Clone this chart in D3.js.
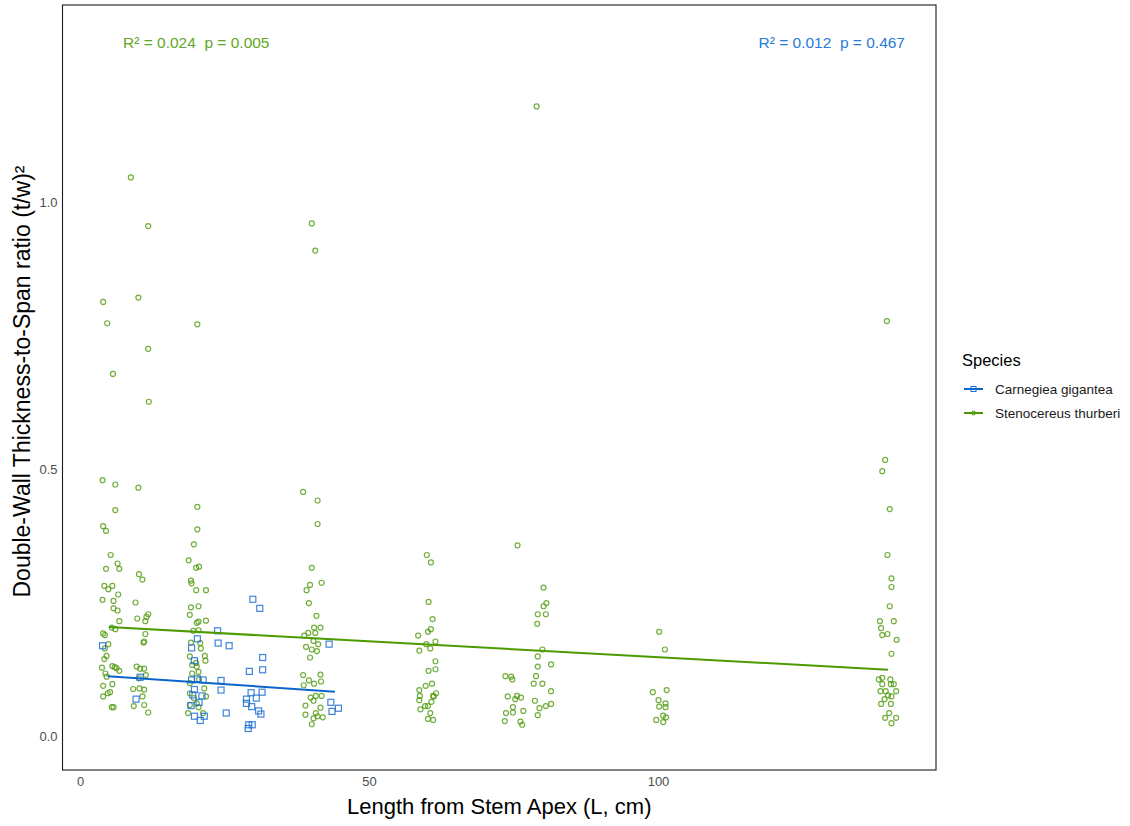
<!DOCTYPE html>
<html>
<head>
<meta charset="utf-8">
<script src="https://cdn.jsdelivr.net/npm/d3@7"></script>
<style>
  body { margin: 0; background: #fff; }
  svg { display: block; font-family: "Liberation Sans", Arial, sans-serif; }
</style>
</head>
<body>
<svg id="chart" width="1130" height="826"></svg>
<script>
// Stenocereus thurberi points [length (cm), ratio]
var thurberiPts = [
  // ~5 cm
  [3.9,0.479],[6.1,0.471],[6.1,0.423],[4.0,0.393],[4.5,0.384],[5.3,0.339],[6.5,0.323],[4.5,0.313],[6.8,0.313],
  [4.2,0.281],[4.9,0.275],[5.6,0.281],[6.6,0.265],[3.9,0.255],[5.8,0.253],[5.8,0.239],[6.5,0.235],[6.8,0.215],
  [5.5,0.203],[6.1,0.200],[4.0,0.192],[4.3,0.189],[4.9,0.172],[4.3,0.164],[4.6,0.150],[4.2,0.144],[3.8,0.128],
  [5.6,0.131],[6.0,0.129],[6.3,0.127],[6.8,0.122],[4.4,0.117],[4.6,0.111],[4.0,0.094],[5.6,0.097],[5.2,0.082],
  [4.8,0.080],[4.0,0.074],[5.5,0.054],[5.8,0.054],[4.0,0.813],[4.7,0.773],[5.7,0.678],
  // ~10 cm
  [10.1,0.465],[10.2,0.303],[10.8,0.293],[9.6,0.250],[11.8,0.228],[11.5,0.223],[9.9,0.220],[11.3,0.215],
  [11.3,0.191],[11.0,0.175],[11.1,0.177],[9.8,0.130],[10.4,0.126],[11.1,0.126],[11.4,0.114],[10.2,0.108],
  [9.2,0.088],[10.3,0.089],[11.1,0.087],[10.8,0.074],[9.3,0.056],[11.1,0.058],[11.8,0.044],[8.8,1.046],
  [11.8,0.955],[10.1,0.821],[11.8,0.725],[11.9,0.626],
  // ~20 cm
  [20.3,0.771],[20.3,0.429],[20.3,0.387],[19.7,0.359],[18.8,0.329],[20.1,0.315],[20.6,0.317],[19.2,0.291],
  [19.3,0.286],[20.1,0.273],[21.8,0.273],[19.2,0.241],[20.5,0.243],[19.0,0.227],[20.2,0.212],[20.5,0.214],
  [21.8,0.216],[19.6,0.197],[20.5,0.198],[19.2,0.175],[20.8,0.174],[20.9,0.164],[19.0,0.149],[21.6,0.150],
  [21.7,0.141],[20.1,0.137],[19.4,0.133],[20.2,0.130],[20.5,0.120],[19.4,0.117],[20.6,0.106],[19.0,0.099],
  [21.5,0.089],[19.0,0.080],[21.8,0.074],[19.7,0.071],[19.0,0.058],[20.5,0.054],[18.7,0.043],[21.3,0.043],[20.2,0.061],
  // ~40 cm
  [40.1,0.960],[40.7,0.909],[38.6,0.457],[41.1,0.441],[41.1,0.397],[40.1,0.315],[39.8,0.283],[41.8,0.287],
  [39.2,0.273],[39.6,0.249],[40.9,0.225],[40.5,0.203],[41.6,0.203],[40.7,0.193],[38.8,0.188],[39.5,0.193],
  [40.4,0.178],[41.2,0.172],[39.1,0.167],[40.1,0.162],[41.0,0.159],[39.8,0.147],[38.6,0.114],[39.6,0.104],
  [40.5,0.098],[41.6,0.115],[38.7,0.095],[41.7,0.102],[39.9,0.072],[40.8,0.075],[41.8,0.075],[40.4,0.066],
  [39.0,0.057],[41.6,0.053],[40.8,0.043],[39.0,0.040],[40.4,0.033],[42.0,0.035],[40.1,0.022],[41.1,0.037],
  // ~60 cm
  [60.0,0.339],[60.7,0.325],[60.3,0.251],[61.0,0.219],[60.7,0.200],[60.2,0.195],[58.5,0.188],[61.5,0.177],
  [59.9,0.172],[60.6,0.164],[58.7,0.160],[61.5,0.140],[61.5,0.125],[60.3,0.122],[60.9,0.098],[59.8,0.094],
  [58.7,0.086],[58.8,0.075],[61.1,0.075],[61.6,0.080],[58.7,0.067],[60.8,0.064],[59.7,0.056],[60.2,0.056],
  [58.9,0.050],[60.6,0.043],[60.2,0.032],[61.1,0.030],[61.2,0.074],
  // ~75-80 cm
  [79.0,1.179],[75.7,0.357],[80.2,0.278],[80.7,0.249],[80.2,0.243],[79.2,0.228],[80.6,0.228],[79.1,0.210],
  [80.0,0.162],[79.2,0.149],[79.2,0.130],[81.5,0.134],[78.9,0.112],[73.6,0.112],[74.6,0.111],[74.8,0.106],
  [78.5,0.098],[80.0,0.098],[81.5,0.084],[74.0,0.074],[75.6,0.075],[75.3,0.069],[76.3,0.072],[78.7,0.066],
  [81.5,0.060],[80.6,0.056],[74.9,0.054],[79.5,0.052],[76.7,0.047],[73.7,0.043],[74.9,0.044],[79.2,0.039],
  [73.5,0.028],[76.2,0.027],[76.5,0.021],
  // ~100 cm
  [100.2,0.195],[101.2,0.162],[99.1,0.082],[101.5,0.086],[100.1,0.067],[101.3,0.061],[100.2,0.055],
  [101.3,0.054],[100.9,0.038],[101.4,0.035],[99.7,0.030],[100.9,0.026],
  // ~140 cm
  [139.6,0.777],[139.3,0.517],[138.8,0.496],[140.1,0.425],[139.7,0.339],[140.4,0.295],[140.4,0.279],
  [140.1,0.243],[138.4,0.215],[140.8,0.215],[138.6,0.202],[138.8,0.189],[139.7,0.191],[141.3,0.180],
  [140.4,0.154],[138.2,0.106],[138.8,0.109],[140.2,0.106],[138.8,0.097],[140.3,0.097],[140.8,0.097],
  [138.5,0.084],[139.4,0.084],[141.2,0.084],[139.8,0.076],[140.4,0.074],[139.2,0.069],[138.6,0.060],
  [140.3,0.060],[140.0,0.043],[139.3,0.034],[141.2,0.034],[140.4,0.024]
];

// Carnegiea gigantea points
var giganteaPts = [
  [3.9,0.169],[10.4,0.110],[9.7,0.069],[29.9,0.256],[31.1,0.239],[23.8,0.197],[23.9,0.174],[25.8,0.169],
  [20.3,0.182],[19.3,0.165],[31.6,0.147],[19.8,0.141],[29.3,0.121],[31.6,0.124],[20.3,0.107],[21.3,0.105],
  [24.4,0.104],[19.3,0.105],[19.8,0.087],[24.4,0.086],[29.6,0.081],[31.5,0.082],[19.5,0.077],[21.1,0.075],
  [28.8,0.069],[30.5,0.071],[20.6,0.063],[28.8,0.061],[19.2,0.057],[29.7,0.055],[30.9,0.047],[31.3,0.041],
  [25.3,0.043],[19.8,0.037],[21.5,0.037],[20.8,0.029],[29.2,0.021],[29.1,0.014],[29.8,0.021],[43.1,0.172],
  [43.4,0.063],[44.7,0.052],[43.6,0.046]
];

// fitted lm lines (endpoints)
var thurberiFit = [[5.0,0.204],[139.8,0.124]];
var giganteaFit = [[4.8,0.112],[44.1,0.083]];

var speciesNames = ["Carnegiea gigantea", "Stenocereus thurberi"];
var statLabels = ["R\u00b2 = 0.012\u00a0\u00a0p = 0.467", "R\u00b2 = 0.024\u00a0\u00a0p = 0.005"];
var xTicks = [0, 50, 100];
var yTicks = [0.0, 0.5, 1.0];

// colours
const blue = "#1f6fd3", green = "#4f9a0c";

const svg = d3.select("#chart");
const panel = {left: 62.5, right: 936, top: 5, bottom: 770};

let xScale = d3.scaleLinear().domain([-3.03, 148.1]).range([panel.left, panel.right]);
let yScale = d3.scaleLinear().domain([-0.0637, 1.369]).range([panel.bottom, panel.top]);

// axes (no tick marks, just labels)
let xAxis = d3.axisBottom(xScale).tickValues(xTicks).tickSize(0).tickPadding(7).tickFormat(d3.format("d"));
let yAxis = d3.axisLeft(yScale).tickValues(yTicks).tickSize(0).tickPadding(5).tickFormat(d3.format(".1f"));

svg.append("g").attr("transform", `translate(0,${panel.bottom})`).call(xAxis)
  .attr("font-family", null).attr("font-size", null)
  .call(g => g.select(".domain").remove())
  .selectAll("text").attr("font-size", "13px").attr("fill", "#4d4d4d");
svg.append("g").attr("transform", `translate(${panel.left},0)`).call(yAxis)
  .attr("font-family", null).attr("font-size", null)
  .call(g => g.select(".domain").remove())
  .selectAll("text").attr("font-size", "13px").attr("fill", "#4d4d4d");

// points
let pts = svg.append("g");
pts.selectAll("circle.thu").data(thurberiPts).enter().append("circle")
  .attr("class", "thu")
  .attr("cx", d => xScale(d[0]))
  .attr("cy", d => yScale(d[1]))
  .attr("r", 2.5)
  .attr("fill", "none")
  .attr("stroke", green)
  .attr("stroke-width", 1.2)
  .attr("stroke-opacity", 0.8);

pts.selectAll("rect.gig").data(giganteaPts).enter().append("rect")
  .attr("class", "gig")
  .attr("x", d => xScale(d[0]) - 3)
  .attr("y", d => yScale(d[1]) - 3)
  .attr("width", 6)
  .attr("height", 6)
  .attr("fill", "none")
  .attr("stroke", blue)
  .attr("stroke-width", 1.2)
  .attr("stroke-opacity", 0.85);

// regression lines
let line = d3.line().x(d => xScale(d[0])).y(d => yScale(d[1]));
svg.append("path").datum(giganteaFit).attr("d", line).attr("fill", "none").attr("stroke", "#0b66cc").attr("stroke-width", 2);
svg.append("path").datum(thurberiFit).attr("d", line).attr("fill", "none").attr("stroke", "#4c9a00").attr("stroke-width", 2);

// panel border
svg.append("rect")
  .attr("x", panel.left).attr("y", panel.top)
  .attr("width", panel.right - panel.left).attr("height", panel.bottom - panel.top)
  .attr("fill", "none").attr("stroke", "#1a1a1a").attr("stroke-width", 1.1);

// stat labels
svg.append("text").attr("x", 123).attr("y", 48).attr("font-size", "15.5px").attr("fill", "#62a625")
  .text(statLabels[1]);
svg.append("text").attr("x", 905).attr("y", 48).attr("text-anchor", "end").attr("font-size", "15.5px").attr("fill", "#2a7bd6")
  .text(statLabels[0]);

// axis titles
svg.append("text").attr("x", (panel.left + panel.right) / 2).attr("y", 814)
  .attr("text-anchor", "middle").attr("font-size", "22px").attr("fill", "#000")
  .text("Length from Stem Apex (L, cm)");
svg.append("text").attr("transform", `translate(30,${(panel.top + panel.bottom) / 2 - 6}) rotate(-90)`)
  .attr("text-anchor", "middle").attr("font-size", "23px").attr("fill", "#000")
  .text("Double-Wall Thickness-to-Span ratio (t/w)\u00b2");

// legend
let legend = svg.append("g").attr("transform", "translate(962,0)");
legend.append("text").attr("x", 0).attr("y", 366).attr("font-size", "16.5px").attr("fill", "#000").text("Species");
const legendY = [389, 413];
speciesNames.forEach((name, i) => {
  let g = legend.append("g").attr("transform", `translate(0,${legendY[i]})`);
  g.append("line").attr("x1", 2).attr("x2", 21).attr("y1", 0).attr("y2", 0)
    .attr("stroke", i == 0 ? "#0b66cc" : "#4c9a00").attr("stroke-width", 2);
  if (i == 0) {
    g.append("rect").attr("x", 9).attr("y", -2.5).attr("width", 5).attr("height", 5)
      .attr("fill", "none").attr("stroke", blue).attr("stroke-width", 1);
  } else {
    g.append("circle").attr("cx", 11.5).attr("cy", 0).attr("r", 2)
      .attr("fill", "none").attr("stroke", green).attr("stroke-width", 1);
  }
  g.append("text").attr("x", 33).attr("y", 4.5).attr("font-size", "13.5px").attr("fill", "#1a1a1a").text(name);
});
</script>
</body>
</html>
